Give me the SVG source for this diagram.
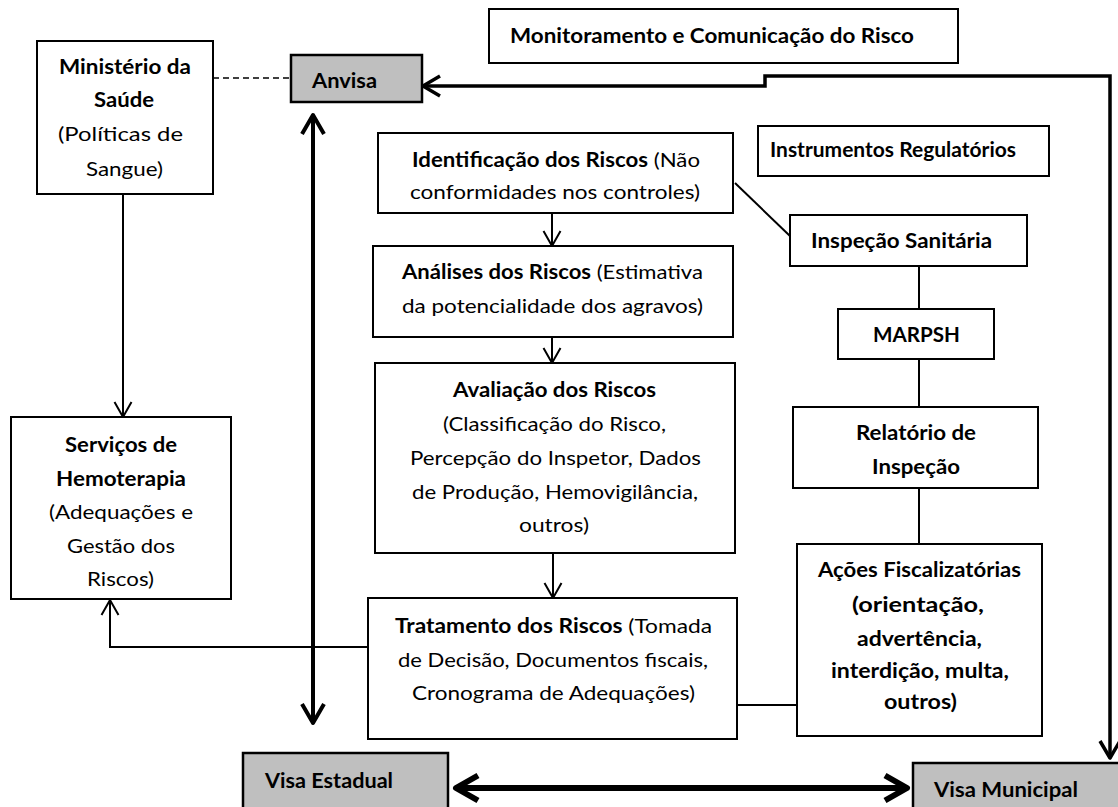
<svg xmlns="http://www.w3.org/2000/svg" width="1118" height="807" viewBox="0 0 1118 807">
<style>
  text { font-family: Lato, "Liberation Sans", sans-serif; font-size: 20px; fill: #000; }
  .b { font-weight: bold; }
  .box { fill: #fff; stroke: #000; stroke-width: 2; }
  .gray { fill: #bfbfbf; stroke: #000; stroke-width: 2.5; }
  .c { fill: none; stroke: #000; stroke-width: 2; }
  .thick { fill: none; stroke: #000; stroke-width: 4; }
  .mid { fill: none; stroke: #000; stroke-width: 3.5; }
  .big { fill: none; stroke: #000; stroke-width: 6; }
</style>
<defs>
  <marker id="ah" viewBox="0 0 20 20" refX="17" refY="10" markerWidth="20" markerHeight="20" markerUnits="userSpaceOnUse" orient="auto-start-reverse">
    <path d="M2,1.5 L17,10 L2,18.5" fill="none" stroke="#000" stroke-width="2"/>
  </marker>
  <marker id="ahT" viewBox="0 0 26 28" refX="22" refY="14" markerWidth="26" markerHeight="28" markerUnits="userSpaceOnUse" orient="auto-start-reverse">
    <path d="M3,3 L22,14 L3,25" fill="none" stroke="#000" stroke-width="4" stroke-linejoin="round"/>
  </marker>
  <marker id="ahM" viewBox="0 0 24 26" refX="20" refY="13" markerWidth="24" markerHeight="26" markerUnits="userSpaceOnUse" orient="auto-start-reverse">
    <path d="M3,3 L20,13 L3,23" fill="none" stroke="#000" stroke-width="3.5" stroke-linejoin="round"/>
  </marker>
  <marker id="ahB" viewBox="0 0 32 32" refX="27" refY="16" markerWidth="32" markerHeight="32" markerUnits="userSpaceOnUse" orient="auto-start-reverse">
    <path d="M5,3.5 L27,16 L5,28.5" fill="none" stroke="#000" stroke-width="6" stroke-linejoin="round"/>
  </marker>
</defs>

<g id="connectors">
  <line x1="213" y1="78" x2="291" y2="78" stroke="#000" stroke-width="1.5" stroke-dasharray="6,4"/>
  <path class="mid" d="M423,86 H765 V76 H1110 V758" marker-start="url(#ahM)" marker-end="url(#ahM)"/>
  <path class="thick" d="M313,115 V723" marker-start="url(#ahT)" marker-end="url(#ahT)"/>
  <path class="big" d="M456,788 H907" marker-start="url(#ahB)" marker-end="url(#ahB)"/>
  <path class="c" d="M123,194 V417" marker-end="url(#ah)"/>
  <path class="c" d="M552,213 V246" marker-end="url(#ah)"/>
  <path class="c" d="M552,337 V363" marker-end="url(#ah)"/>
  <path class="c" d="M553,553 V598" marker-end="url(#ah)"/>
  <path class="c" d="M368,647 H110 V600" marker-end="url(#ah)"/>
  <path class="c" d="M737,705 H797"/>
  <path class="c" d="M735,183 L790,236"/>
  <path class="c" d="M919,266 V309"/>
  <path class="c" d="M919,359 V407"/>
  <path class="c" d="M919,488 V544"/>
</g>

<g id="monitoramento">
  <rect class="box" x="489" y="9" width="469" height="54"/>
  <text class="b" x="510" y="43" font-size="18" textLength="404" lengthAdjust="spacingAndGlyphs">Monitoramento e Comunicação do Risco</text>
</g>

<g id="ministerio">
  <rect class="box" x="37" y="41" width="176" height="153"/>
  <text class="b" x="59" y="74" textLength="132" lengthAdjust="spacingAndGlyphs">Ministério da</text>
  <text class="b" x="94" y="107" textLength="60" lengthAdjust="spacingAndGlyphs">Saúde</text>
  <text x="58" y="141" textLength="125" lengthAdjust="spacingAndGlyphs">(Políticas de</text>
  <text x="86" y="176" textLength="77" lengthAdjust="spacingAndGlyphs">Sangue)</text>
</g>

<g id="anvisa">
  <rect class="gray" x="291" y="55" width="131" height="47"/>
  <text class="b" x="312" y="88" font-size="19" textLength="65" lengthAdjust="spacingAndGlyphs">Anvisa</text>
</g>

<g id="instrumentos">
  <rect class="box" x="758" y="126" width="291" height="50"/>
  <text class="b" x="770" y="157" font-size="17" textLength="246" lengthAdjust="spacingAndGlyphs">Instrumentos Regulatórios</text>
</g>

<g id="identificacao">
  <rect class="box" x="378" y="133" width="355" height="80"/>
  <text x="412" y="167" textLength="288" lengthAdjust="spacingAndGlyphs"><tspan class="b">Identificação dos Riscos</tspan> (Não</text>
  <text x="410" y="199" textLength="290" lengthAdjust="spacingAndGlyphs">conformidades nos controles)</text>
</g>

<g id="analises">
  <rect class="box" x="373" y="246" width="360" height="91"/>
  <text x="402" y="279" textLength="301" lengthAdjust="spacingAndGlyphs"><tspan class="b">Análises dos Riscos</tspan> (Estimativa</text>
  <text x="402" y="313" textLength="301" lengthAdjust="spacingAndGlyphs">da potencialidade dos agravos)</text>
</g>

<g id="avaliacao">
  <rect class="box" x="375" y="363" width="360" height="190"/>
  <text class="b" x="453" y="397" textLength="203" lengthAdjust="spacingAndGlyphs">Avaliação dos Riscos</text>
  <text x="443" y="431" textLength="223" lengthAdjust="spacingAndGlyphs">(Classificação do Risco,</text>
  <text x="410" y="465" textLength="291" lengthAdjust="spacingAndGlyphs">Percepção do Inspetor, Dados</text>
  <text x="412" y="499" textLength="286" lengthAdjust="spacingAndGlyphs">de Produção, Hemovigilância,</text>
  <text x="519" y="532" textLength="70" lengthAdjust="spacingAndGlyphs">outros)</text>
</g>

<g id="tratamento">
  <rect class="box" x="368" y="598" width="369" height="141"/>
  <text x="395" y="633" textLength="317" lengthAdjust="spacingAndGlyphs"><tspan class="b">Tratamento dos Riscos</tspan> (Tomada</text>
  <text x="398" y="667" textLength="310" lengthAdjust="spacingAndGlyphs">de Decisão, Documentos fiscais,</text>
  <text x="412" y="700" textLength="283" lengthAdjust="spacingAndGlyphs">Cronograma de Adequações)</text>
</g>

<g id="servicos">
  <rect class="box" x="11" y="417" width="220" height="182"/>
  <text class="b" x="65" y="452" textLength="112" lengthAdjust="spacingAndGlyphs">Serviços de</text>
  <text class="b" x="56" y="486" textLength="130" lengthAdjust="spacingAndGlyphs">Hemoterapia</text>
  <text x="49" y="519" textLength="144" lengthAdjust="spacingAndGlyphs">(Adequações e</text>
  <text x="67" y="553" textLength="108" lengthAdjust="spacingAndGlyphs">Gestão dos</text>
  <text x="87" y="586" textLength="67" lengthAdjust="spacingAndGlyphs">Riscos)</text>
</g>

<g id="inspecao">
  <rect class="box" x="790" y="215" width="237" height="51"/>
  <text class="b" x="811" y="248" font-size="18" textLength="181" lengthAdjust="spacingAndGlyphs">Inspeção Sanitária</text>
</g>

<g id="marpsh">
  <rect class="box" x="838" y="309" width="156" height="50"/>
  <text class="b" x="873" y="342" textLength="87" lengthAdjust="spacingAndGlyphs">MARPSH</text>
</g>

<g id="relatorio">
  <rect class="box" x="793" y="407" width="245" height="81"/>
  <text class="b" x="856" y="440" textLength="120" lengthAdjust="spacingAndGlyphs">Relatório de</text>
  <text class="b" x="872" y="474" textLength="88" lengthAdjust="spacingAndGlyphs">Inspeção</text>
</g>

<g id="acoes">
  <rect class="box" x="797" y="544" width="245" height="192"/>
  <text class="b" x="818" y="577" textLength="203" lengthAdjust="spacingAndGlyphs">Ações Fiscalizatórias</text>
  <text class="b" x="852" y="612" textLength="132" lengthAdjust="spacingAndGlyphs">(orientação,</text>
  <text class="b" x="857" y="646" textLength="125" lengthAdjust="spacingAndGlyphs">advertência,</text>
  <text class="b" x="831" y="678" textLength="178" lengthAdjust="spacingAndGlyphs">interdição, multa,</text>
  <text class="b" x="884" y="709" textLength="73" lengthAdjust="spacingAndGlyphs">outros)</text>
</g>

<g id="visa-estadual">
  <rect class="gray" x="243" y="753" width="205" height="70"/>
  <text class="b" x="265" y="788" font-size="21" textLength="128" lengthAdjust="spacingAndGlyphs">Visa Estadual</text>
</g>

<g id="visa-municipal">
  <rect class="gray" x="913" y="763" width="215" height="60"/>
  <text class="b" x="934" y="797" font-size="21" textLength="144" lengthAdjust="spacingAndGlyphs">Visa Municipal</text>
</g>
</svg>
